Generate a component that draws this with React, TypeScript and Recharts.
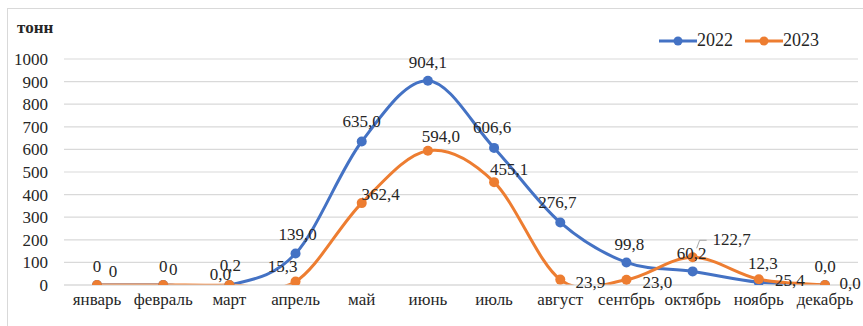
import React from "react";
import { LineChart, Line, XAxis, YAxis, CartesianGrid, LabelList } from "recharts";

const months = ["январь", "февраль", "март", "апрель", "май", "июнь", "июль", "август", "сентбрь", "октябрь", "ноябрь", "декабрь"];
const values2022 = [0, 0, 0.0, 139.0, 635.0, 904.1, 606.6, 276.7, 99.8, 60.2, 12.3, 0.0];
const values2023 = [0, 0, 0.2, 15.3, 362.4, 594.0, 455.1, 23.9, 23.0, 122.7, 25.4, 0.0];
const yTicks = [0, 100, 200, 300, 400, 500, 600, 700, 800, 900, 1000];
// label decimals: first two months shown as integers
const labelDecimals = [0, 0, 1, 1, 1, 1, 1, 1, 1, 1, 1, 1];

// label offsets (layout only)
const offsets2022: [number, number][] = [[0, -19], [0, -19], [-9, -11], [2, -19], [0, -20], [0, -18], [-2, -20], [-3, -20], [3, -18], [-1, -18], [4, -19], [0, -19]];
const offsets2023: [number, number][] = [[16, -14], [10, -16], [1, -19], [-13, -15], [19, -9], [13, -14], [15, -13], [30, 3], [31, 3], [39, -18], [31, 1], [25, -2]];

const data = months.map((m, i) => ({ month: m, y2022: values2022[i], y2023: values2023[i] }));

const BLUE = "#4472C4";
const ORANGE = "#ED7D31";
const FONT = "Liberation Serif";
const FS = 17;
const TEXT = "#262626";

function fmt(v: number, i: number) {
  return v.toFixed(labelDecimals[i]).replace(".", ",");
}

// Excel-like smooth curve (Catmull-Rom style Bezier)
function excelCurve(context: any) {
  let pts: number[][] = [];
  return {
    areaStart() {},
    areaEnd() {},
    lineStart() {
      pts = [];
    },
    point(x: number, y: number) {
      pts.push([+x, +y]);
    },
    lineEnd() {
      const n = pts.length;
      if (!n) return;
      context.moveTo(pts[0][0], pts[0][1]);
      for (let i = 0; i < n - 1; i++) {
        const p0 = pts[i - 1] || pts[i];
        const p1 = pts[i];
        const p2 = pts[i + 1];
        const p3 = pts[i + 2] || p2;
        const c1x = p1[0] + (p2[0] - p0[0]) / 6;
        const c1y = p1[1] + (p2[1] - p0[1]) / 6;
        const c2x = p2[0] - (p3[0] - p1[0]) / 6;
        const c2y = p2[1] - (p3[1] - p1[1]) / 6;
        context.bezierCurveTo(c1x, c1y, c2x, c2y, p2[0], p2[1]);
      }
    },
  };
}

const makeLabel = (offsets: [number, number][], leaderIndex: number) => (props: any) => {
  const { x, y, value, index } = props;
  const [dx, dy] = offsets[index];
  const tx = x + dx;
  const ty = y + dy;
  return (
    <g>
      {index === leaderIndex ? (
        <polyline points={`${x + 4},${y - 9} ${x + 7},${y - 17} ${x + 14},${y - 17}`} fill="none" stroke="#a6a6a6" strokeWidth={1} />
      ) : null}
      <text x={tx} y={ty} textAnchor="middle" dominantBaseline="central" fontFamily={FONT} fontSize={FS} fill={TEXT}>
        {fmt(value, index)}
      </text>
    </g>
  );
};

export default function App() {
  return (
    <div style={{ position: "absolute", left: 0, top: 0, width: 863, height: 326, overflow: "hidden", background: "#fff" }}>
      <div style={{ position: "absolute", left: 7, top: 8, width: 900, height: 400, border: "1.5px solid #d9d9d9", boxSizing: "border-box" }} />
      <div style={{ position: "absolute", left: 17, top: 18, fontFamily: FONT, fontSize: FS, fontWeight: "bold", color: TEXT }}>тонн</div>
      <div style={{ position: "absolute", left: 659, top: 30, display: "flex", alignItems: "center", fontFamily: FONT, fontSize: 18, color: TEXT }}>
        <svg width={38} height={12}>
          <line x1={0} y1={6} x2={38} y2={6} stroke={BLUE} strokeWidth={3} />
          <circle cx={19} cy={6} r={4.5} fill={BLUE} />
        </svg>
        <span style={{ marginRight: 12 }}>2022</span>
        <svg width={38} height={12}>
          <line x1={0} y1={6} x2={38} y2={6} stroke={ORANGE} strokeWidth={3} />
          <circle cx={19} cy={6} r={4.5} fill={ORANGE} />
        </svg>
        <span>2023</span>
      </div>
      <div style={{ position: "absolute", left: 0, top: 0 }}>
        <LineChart width={863} height={326} data={data} margin={{ top: 59, right: 5, bottom: 11, left: 8 }}>
          <CartesianGrid vertical={false} stroke="#d9d9d9" strokeWidth={1.2} />
          <XAxis
            dataKey="month"
            axisLine={{ stroke: "#d9d9d9", strokeWidth: 1.2 }}
            tickLine={false}
            height={30}
            interval={0}
            padding={{ left: 33, right: 33 }}
            tick={{ fontFamily: FONT, fontSize: FS, fill: TEXT }}
          />
          <YAxis
            domain={[0, 1000]}
            ticks={yTicks}
            allowDataOverflow
            axisLine={false}
            tickLine={false}
            width={56}
            tickMargin={10}
            interval={0}
            tick={{ fontFamily: FONT, fontSize: FS, fill: TEXT }}
          />
          <Line
            dataKey="y2022"
            type={excelCurve as any}
            stroke={BLUE}
            strokeWidth={3}
            dot={{ r: 5, fill: BLUE, stroke: BLUE, strokeWidth: 0 }}
            isAnimationActive={false}
          >
            <LabelList dataKey="y2022" content={makeLabel(offsets2022, -1)} />
          </Line>
          <Line
            dataKey="y2023"
            type={excelCurve as any}
            stroke={ORANGE}
            strokeWidth={3}
            dot={{ r: 5, fill: ORANGE, stroke: ORANGE, strokeWidth: 0 }}
            isAnimationActive={false}
          >
            <LabelList dataKey="y2023" content={makeLabel(offsets2023, 9)} />
          </Line>
        </LineChart>
      </div>
    </div>
  );
}
